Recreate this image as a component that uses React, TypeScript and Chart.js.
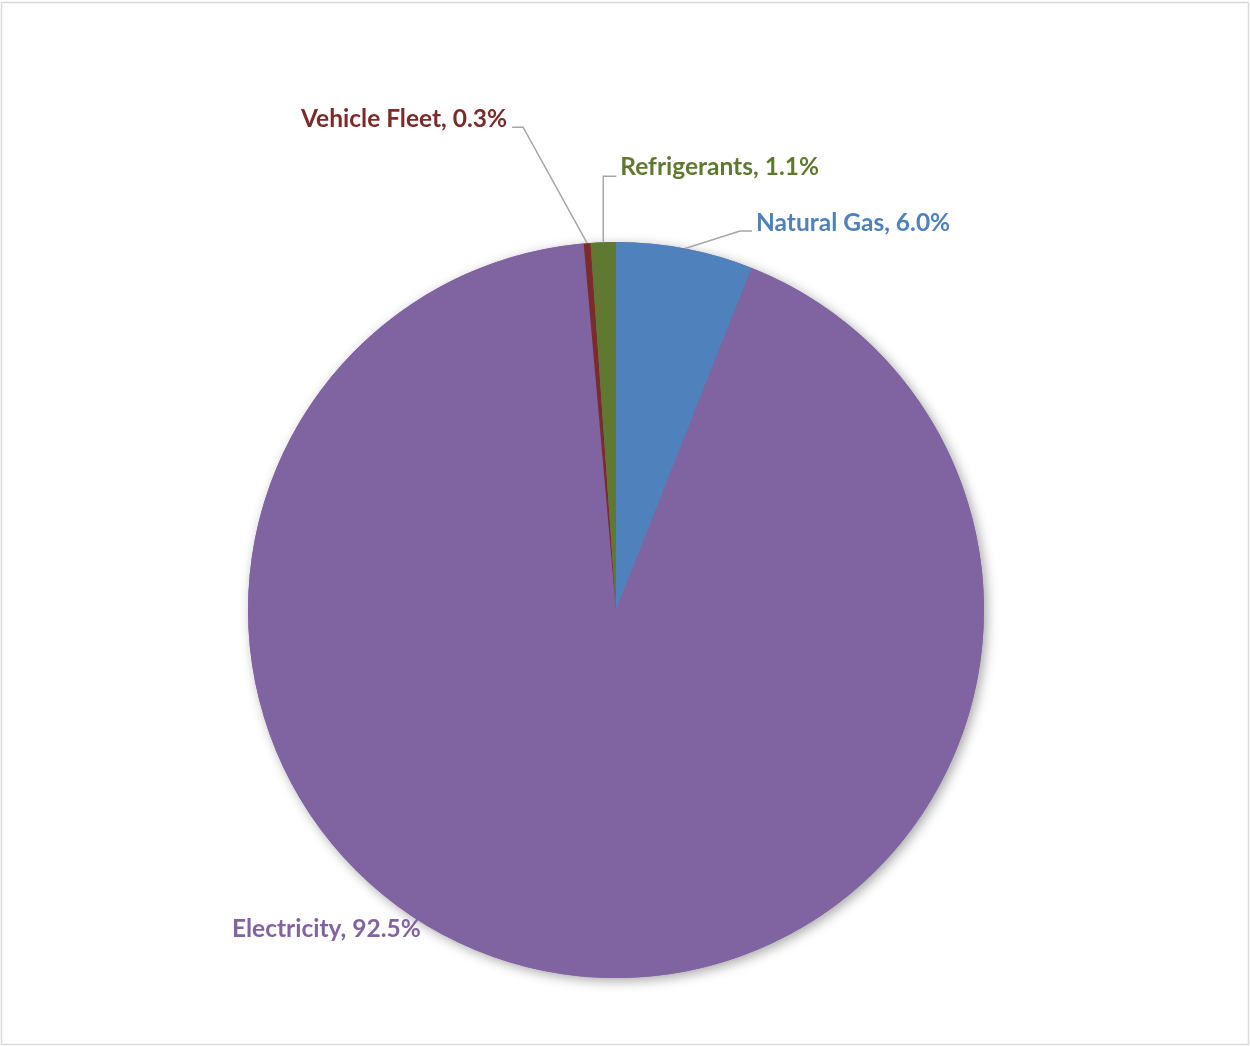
import React, { useEffect, useRef } from "react";
import { Chart, registerables } from "chart.js";

Chart.register(...registerables);

const categories = ["Natural Gas", "Electricity", "Vehicle Fleet", "Refrigerants"];
const values = [6.0, 92.5, 0.3, 1.1];
const sliceColors = ["#4F81BD", "#8064A2", "#7B2C2A", "#5F7A30"];
const labelColors = ["#4F81BD", "#8064A2", "#7B2C2A", "#5F7A30"];

// Label layout relative to each slice's outer-edge midpoint (anchor)
type LabelLayout = { leader: boolean; ex: number; ey: number; hx: number; tx: number; ty: number; align: CanvasTextAlign };
const labelLayout: LabelLayout[] = [
  { leader: true, ex: 55, ey: -17.5, hx: 12, tx: 4, ty: 0, align: "left" },
  { leader: false, ex: -331, ey: -37, hx: 0, tx: 0, ty: 0, align: "left" },
  { leader: true, ex: -64, ey: -116, hx: -11, tx: -5, ty: 0, align: "right" },
  { leader: true, ex: 0, ey: -66, hx: 13, tx: 4, ty: -1, align: "left" },
];

const FONT = "bold 24.5px Lato, 'Open Sans', sans-serif";

const framePlugin = {
  id: "frame",
  beforeDraw(chart: any) {
    const { ctx, width, height } = chart;
    ctx.save();
    ctx.fillStyle = "#FFFFFF";
    ctx.fillRect(0, 0, width, height);
    ctx.strokeStyle = "#D9D9D9";
    ctx.lineWidth = 1.5;
    ctx.strokeRect(1.5, 2.5, width - 3, height - 4);
    ctx.restore();
  },
};

const shadowPlugin = {
  id: "pieShadow",
  beforeDatasetsDraw(chart: any) {
    const meta = chart.getDatasetMeta(0);
    if (!meta.data.length) return;
    const arc: any = meta.data[0];
    const { ctx } = chart;
    ctx.save();
    ctx.shadowColor = "rgba(0,0,0,0.35)";
    ctx.shadowBlur = 12;
    ctx.shadowOffsetX = 3;
    ctx.shadowOffsetY = 3;
    ctx.fillStyle = "#8064A2";
    ctx.beginPath();
    ctx.arc(arc.x, arc.y, arc.outerRadius, 0, Math.PI * 2);
    ctx.fill();
    ctx.restore();
  },
};

const labelPlugin = {
  id: "pieLabels",
  afterDatasetsDraw(chart: any) {
    const meta = chart.getDatasetMeta(0);
    const { ctx } = chart;
    const data = chart.data.datasets[0].data as number[];
    ctx.save();
    ctx.font = FONT;
    ctx.textBaseline = "alphabetic";
    meta.data.forEach((arc: any, i: number) => {
      const mid = (arc.startAngle + arc.endAngle) / 2;
      const ax = arc.x + Math.cos(mid) * arc.outerRadius;
      const ay = arc.y + Math.sin(mid) * arc.outerRadius;
      const L = labelLayout[i];
      const ex = ax + L.ex;
      const ey = ay + L.ey;
      let tx = ex;
      if (L.leader) {
        const hx = ex + L.hx;
        ctx.strokeStyle = "#A6A6A6";
        ctx.lineWidth = 1.5;
        ctx.beginPath();
        ctx.moveTo(ax, ay);
        ctx.lineTo(ex, ey);
        ctx.lineTo(hx, ey);
        ctx.stroke();
        tx = hx + L.tx;
      }
      const text = `${chart.data.labels[i]}, ${data[i].toFixed(1)}%`;
      ctx.fillStyle = labelColors[i];
      ctx.textAlign = L.align;
      ctx.fillText(text, tx, ey + L.ty);
    });
    ctx.restore();
  },
};

export default function App() {
  const ref = useRef<HTMLCanvasElement | null>(null);
  useEffect(() => {
    document.body.style.margin = "0";
    if (!ref.current) return;
    const chart = new Chart(ref.current, {
      type: "pie",
      data: {
        labels: categories,
        datasets: [
          {
            data: values,
            backgroundColor: sliceColors,
            borderWidth: 0,
          },
        ],
      },
      options: {
        responsive: false,
        animation: false,
        layout: { padding: { top: 242, bottom: 68, left: 248, right: 266 } },
        plugins: {
          legend: { display: false },
          tooltip: { enabled: false },
        },
      },
      plugins: [framePlugin, shadowPlugin, labelPlugin],
    });
    return () => chart.destroy();
  }, []);
  return (
    <div style={{ width: 1250, height: 1046 }}>
      <canvas ref={ref} width={1250} height={1046} style={{ display: "block" }} />
    </div>
  );
}
